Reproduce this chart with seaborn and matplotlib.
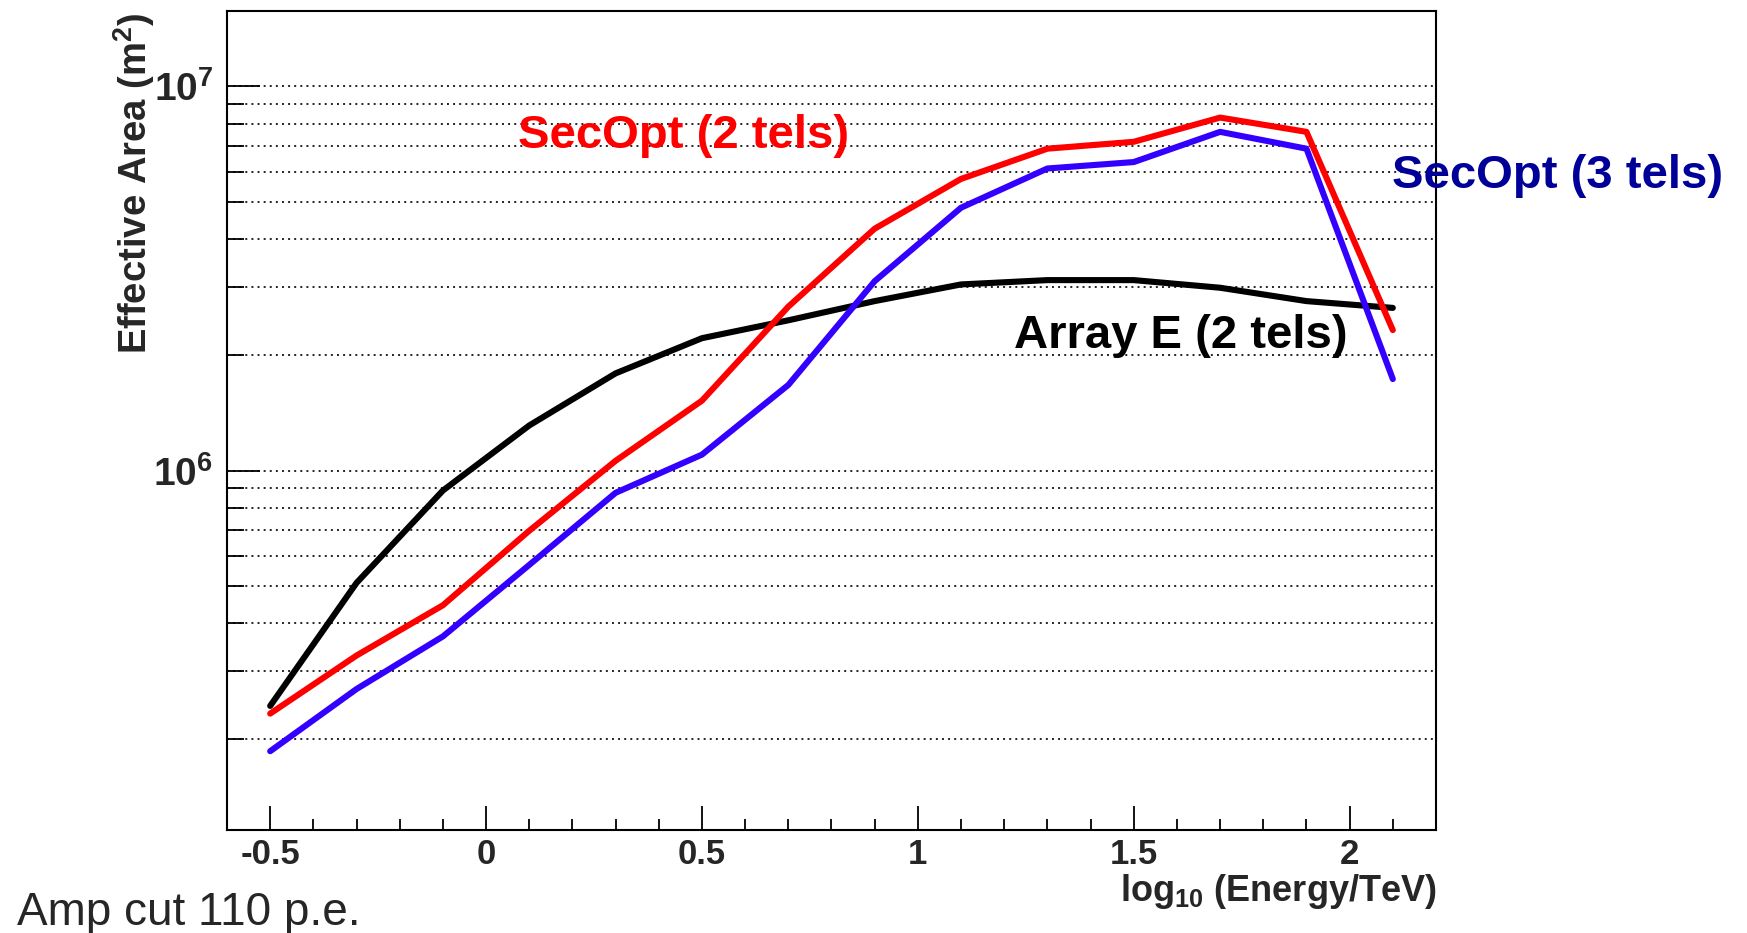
import numpy as np
import pandas as pd
import matplotlib
matplotlib.use("Agg")
import matplotlib.pyplot as plt
import seaborn as sns
from matplotlib.ticker import LogLocator, NullFormatter, FuncFormatter, MultipleLocator

# ---- data ----
log_energy = [-0.5, -0.3, -0.1, 0.1, 0.3, 0.5, 0.7, 0.9, 1.1, 1.3, 1.5, 1.7, 1.9, 2.1]
array_e_2tels = [2.44e5, 5.1e5, 8.87e5, 1.31e6, 1.79e6, 2.21e6, 2.46e6, 2.76e6,
                 3.05e6, 3.13e6, 3.13e6, 2.99e6, 2.76e6, 2.65e6]
secopt_2tels = [2.33e5, 3.30e5, 4.46e5, 6.97e5, 1.06e6, 1.52e6, 2.67e6, 4.26e6,
                5.74e6, 6.88e6, 7.17e6, 8.29e6, 7.61e6, 2.32e6]
secopt_3tels = [1.86e5, 2.70e5, 3.70e5, 5.68e5, 8.75e5, 1.10e6, 1.67e6, 3.11e6,
                4.83e6, 6.11e6, 6.35e6, 7.61e6, 6.88e6, 1.73e6]
series_names = ["Array E (2 tels)", "SecOpt (2 tels)", "SecOpt (3 tels)"]
series_colors = ["#000000", "#ff0000", "#3300ff"]

df = pd.concat([
    pd.DataFrame({"x": log_energy, "y": vals, "series": name})
    for name, vals in zip(series_names, [array_e_2tels, secopt_2tels, secopt_3tels])
])

sns.set_style("ticks")
plt.rcParams["font.family"] = ["Liberation Sans", "DejaVu Sans"]
plt.rcParams["mathtext.fontset"] = "custom"
plt.rcParams["mathtext.rm"] = "Liberation Sans:bold"
plt.rcParams["mathtext.bf"] = "Liberation Sans:bold"
plt.rcParams["mathtext.it"] = "Liberation Sans:bold"
plt.rcParams["mathtext.default"] = "bf"
plt.rcParams["axes.unicode_minus"] = False
plt.rcParams["lines.scale_dashes"] = False

W, H = 1747, 933
fig = plt.figure(figsize=(W / 100, H / 100), dpi=100)
ax = fig.add_axes([227 / W, 1 - 830 / H, (1436 - 227) / W, (830 - 11) / H])

ax.set_yscale("log")
ax.set_xlim(-0.6, 2.2)
ax.set_ylim(1.16e5, 1.57e7)
ax.yaxis.set_major_locator(LogLocator(base=10, numticks=20))
ax.yaxis.set_minor_locator(LogLocator(base=10, subs=np.arange(2, 10), numticks=50))
ax.yaxis.set_minor_formatter(NullFormatter())
ax.yaxis.set_major_formatter(FuncFormatter(lambda v, p: r"$\mathbf{10^{%d}}$" % round(np.log10(v))))
ax.xaxis.set_major_locator(MultipleLocator(0.5))
ax.xaxis.set_minor_locator(MultipleLocator(0.1))
ax.xaxis.set_major_formatter(FuncFormatter(lambda v, p: "%g" % round(v, 2)))
ax.grid(axis="y", which="both", color="#222222", linestyle=(0, (1.4, 3.0)), linewidth=1.4)
ax.set_axisbelow(True)

sns.lineplot(data=df, x="x", y="y", hue="series", palette=dict(zip(series_names, series_colors)),
             linewidth=4.4, legend=False, ax=ax, sort=False)

for sp in ax.spines.values():
    sp.set_linewidth(1.5)
    sp.set_color("black")

ax.tick_params(axis="both", which="both", direction="in", color="black", width=1.3)
ax.tick_params(axis="y", which="major", length=24, pad=10, labelsize=28)
ax.tick_params(axis="y", which="minor", length=12)
ax.tick_params(axis="x", which="major", length=17, pad=6, labelsize=25)
ax.tick_params(axis="x", which="minor", length=8)
for lab in ax.get_xticklabels():
    lab.set_fontweight("bold")
ax.set_xlabel("")
ax.set_ylabel("")

# axis titles
fig.text(1437 / W, 1 - 901 / H, r"log$_{10}$ (Energy/TeV)", ha="right", va="baseline",
         fontsize=26, fontweight="bold")
fig.text(134 / W, 1 - 12 / H, r"Effective Area (m$^{2}$)", rotation=90, ha="center", va="top",
         fontsize=27.5, fontweight="bold")

# curve labels
ax.text(0.074, 6.89e6, "SecOpt (2 tels)", color="#ff0000", fontsize=34, fontweight="bold",
        ha="left", va="baseline")
ax.text(1.222, 2.08e6, "Array E (2 tels)", color="#000000", fontsize=34, fontweight="bold",
        ha="left", va="baseline")
ax.text(2.097, 5.42e6, "SecOpt (3 tels)", color="#000099", fontsize=34, fontweight="bold",
        ha="left", va="baseline", clip_on=False)

fig.text(17 / W, 1 - 925 / H, "Amp cut 110 p.e.", ha="left", va="baseline", fontsize=33)

fig.savefig("out.png", dpi=100)
